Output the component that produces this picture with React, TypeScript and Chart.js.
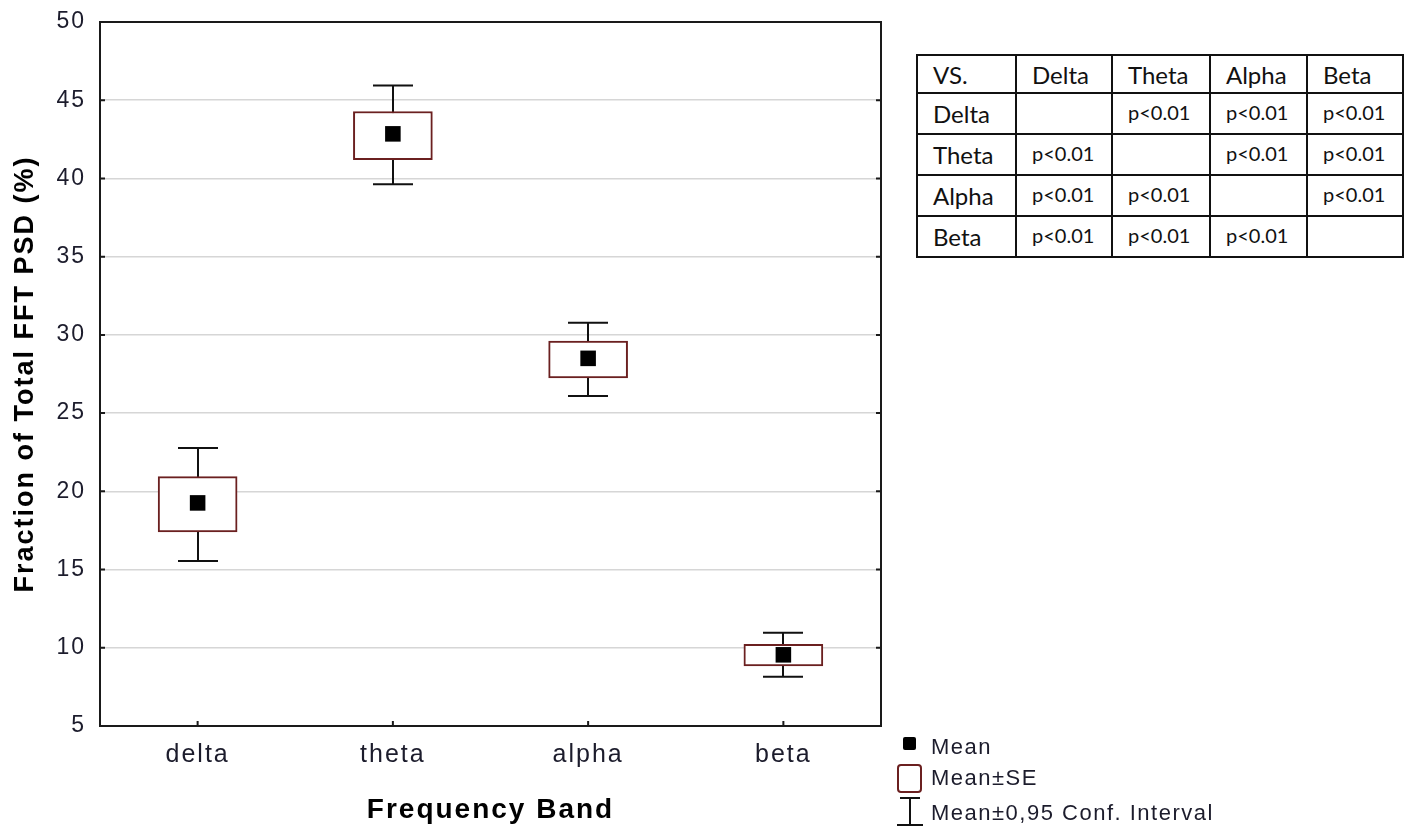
import React, { useEffect, useRef } from 'react';
import { Chart, registerables } from 'chart.js';

Chart.register(...registerables);

// ---------- data ----------
const categories = ['delta', 'theta', 'alpha', 'beta'];
const meanValues = [19.26, 42.85, 28.5, 9.55];
const seLower = [17.4, 41.2, 27.25, 8.84];
const seUpper = [20.94, 44.28, 29.6, 10.22];
const ciLower = [15.55, 39.63, 26.1, 8.15];
const ciUpper = [22.77, 45.94, 30.77, 10.96];
const yMin = 5;
const yMax = 50;
const yStep = 5;

const tableHeader = ['VS.', 'Delta', 'Theta', 'Alpha', 'Beta'];
const tableRowLabels = ['Delta', 'Theta', 'Alpha', 'Beta'];
const tableCells = [
  ['', 'p<0.01', 'p<0.01', 'p<0.01'],
  ['p<0.01', '', 'p<0.01', 'p<0.01'],
  ['p<0.01', 'p<0.01', '', 'p<0.01'],
  ['p<0.01', 'p<0.01', 'p<0.01', ''],
];
const legendLabels = ['Mean', 'Mean\u00b1SE', 'Mean\u00b10,95 Conf. Interval'];

const BOX_COLOR = '#6b2020';
const FONT = '"Liberation Sans", Arial, sans-serif';

const spacingPlugin = {
  id: 'spacing',
  beforeDraw(chart: any) {
    chart.ctx.letterSpacing = '2px';
  },
};

const whiskerPlugin = {
  id: 'whiskers',
  beforeDatasetsDraw(chart: any) {
    const { ctx } = chart;
    const xs = chart.scales.x;
    const ys = chart.scales.y;
    ctx.save();
    ctx.strokeStyle = '#111';
    ctx.lineWidth = 2;
    categories.forEach((_, i) => {
      const px = Math.round(xs.getPixelForValue(i));
      const top = ys.getPixelForValue(ciUpper[i]);
      const bot = ys.getPixelForValue(ciLower[i]);
      ctx.beginPath();
      ctx.moveTo(px, top);
      ctx.lineTo(px, bot);
      ctx.moveTo(px - 20, top);
      ctx.lineTo(px + 20, top);
      ctx.moveTo(px - 20, bot);
      ctx.lineTo(px + 20, bot);
      ctx.stroke();
    });
    ctx.restore();
  },
};

const framePlugin = {
  id: 'frame',
  afterDraw(chart: any) {
    const { ctx, chartArea } = chart;
    const { left, right, top, bottom } = chartArea;
    const xs = chart.scales.x;
    const ys = chart.scales.y;
    ctx.save();
    ctx.strokeStyle = '#1a1a1a';
    ctx.lineWidth = 2;
    ctx.strokeRect(left, top, right - left, bottom - top);
    ctx.beginPath();
    ys.ticks.forEach((t: any) => {
      const py = ys.getPixelForValue(t.value);
      ctx.moveTo(left, py);
      ctx.lineTo(left + 5, py);
      ctx.moveTo(right, py);
      ctx.lineTo(right - 5, py);
    });
    categories.forEach((_, i) => {
      const px = xs.getPixelForValue(i);
      ctx.moveTo(px, bottom);
      ctx.lineTo(px, bottom - 5);
    });
    ctx.stroke();
    ctx.restore();
  },
};

function ChartCanvas() {
  const ref = useRef<HTMLCanvasElement | null>(null);
  useEffect(() => {
    if (!ref.current) return;
    const chart = new Chart(ref.current, {
      type: 'bar',
      data: {
        labels: categories,
        datasets: [
          {
            type: 'line',
            label: legendLabels[0],
            data: meanValues,
            showLine: false,
            pointStyle: 'rect',
            pointRadius: 11,
            pointHoverRadius: 11,
            pointBackgroundColor: '#000',
            pointBorderWidth: 0,
            order: 1,
          } as any,
          {
            type: 'bar',
            label: legendLabels[1],
            data: seLower.map((l, i) => [l, seUpper[i]]),
            backgroundColor: '#ffffff',
            borderColor: BOX_COLOR,
            borderWidth: 2,
            borderSkipped: false,
            barThickness: 79,
            order: 2,
          } as any,
        ],
      },
      options: {
        animation: false,
        responsive: false,
        maintainAspectRatio: false,
        devicePixelRatio: 1,
        layout: { padding: { left: 0, right: 526, top: 22, bottom: 0 } },
        plugins: {
          legend: { display: false },
          title: { display: false },
          tooltip: { enabled: false },
        },
        scales: {
          x: {
            afterFit: (s: any) => {
              s.height = 103;
              s.paddingLeft = 0;
              s.paddingRight = 0;
            },
            grid: { display: false, drawTicks: false },
            border: { display: false },
            ticks: {
              font: { family: FONT, size: 25 },
              color: '#1c1c2c',
              padding: 14,
            },
            title: {
              display: true,
              text: 'Frequency Band',
              font: { family: FONT, size: 28, weight: 'bold' },
              color: '#000',
              padding: { top: 0, bottom: 2 },
            },
          },
          y: {
            min: yMin,
            max: yMax,
            afterFit: (s: any) => {
              s.width = 100;
              s.paddingTop = 0;
              s.paddingBottom = 0;
            },
            grid: {
              drawTicks: false,
              lineWidth: 1.5,
              color: (c: any) =>
                c.tick && (c.tick.value === yMin || c.tick.value === yMax)
                  ? 'rgba(0,0,0,0)'
                  : '#d6d6d6',
            },
            border: { display: false },
            ticks: {
              stepSize: yStep,
              font: { family: FONT, size: 23 },
              color: '#1c1c2c',
              padding: 14,
            },
            title: {
              display: true,
              text: 'Fraction of Total FFT PSD (%)',
              font: { family: FONT, size: 27, weight: 'bold' },
              color: '#000',
              padding: { top: 9, bottom: 0 },
            },
          },
        },
      } as any,
      plugins: [spacingPlugin, whiskerPlugin, framePlugin],
    });
    return () => chart.destroy();
  }, []);
  return <canvas ref={ref} width={1407} height={829} style={{ display: 'block' }} />;
}

const colWidths = [99, 96, 98, 97, 96];

function PTable() {
  const cellBase: React.CSSProperties = {
    border: '2px solid #111',
    padding: '0 0 0 15px',
    textAlign: 'left',
    verticalAlign: 'middle',
    height: 35,
    whiteSpace: 'nowrap',
    overflow: 'hidden',
  };
  const labelFont: React.CSSProperties = { fontFamily: 'Lato, "Open Sans", sans-serif', fontSize: 24, color: '#111' };
  const pFont: React.CSSProperties = { fontFamily: 'Lato, "Open Sans", sans-serif', fontSize: 20, color: '#111' };
  return (
    <table
      style={{
        position: 'absolute',
        left: 916,
        top: 54,
        borderCollapse: 'collapse',
        tableLayout: 'fixed',
        width: 488,
        background: '#fff',
      }}
    >
      <colgroup>
        {colWidths.map((w, i) => (
          <col key={i} style={{ width: w }} />
        ))}
      </colgroup>
      <tbody>
        <tr>
          {tableHeader.map((h, i) => (
            <td key={i} style={{ ...cellBase, ...labelFont, height: 36 }}>
              {h}
            </td>
          ))}
        </tr>
        {tableRowLabels.map((r, ri) => (
          <tr key={ri}>
            <td style={{ ...cellBase, ...labelFont }}>{r}</td>
            {tableCells[ri].map((c, ci) => (
              <td key={ci} style={{ ...cellBase, ...pFont, paddingBottom: 4 }}>
                {c}
              </td>
            ))}
          </tr>
        ))}
      </tbody>
    </table>
  );
}

function Legend() {
  const text: React.CSSProperties = {
    position: 'absolute',
    left: 931,
    fontFamily: FONT,
    fontSize: 22,
    letterSpacing: '1.5px',
    color: '#1c1c2c',
    lineHeight: '26px',
    whiteSpace: 'nowrap',
  };
  return (
    <div>
      <div style={{ position: 'absolute', left: 903, top: 737, width: 13, height: 13, background: '#000', borderRadius: 2 }} />
      <div style={{ ...text, top: 734 }}>{legendLabels[0]}</div>
      <div
        style={{
          position: 'absolute',
          left: 897,
          top: 764,
          width: 21,
          height: 25,
          border: `2px solid ${BOX_COLOR}`,
          borderRadius: 4,
        }}
      />
      <div style={{ ...text, top: 765 }}>{legendLabels[1]}</div>
      <svg style={{ position: 'absolute', left: 895, top: 795 }} width={30} height={34}>
        <line x1={5} y1={3} x2={25} y2={3} stroke="#111" strokeWidth={2} />
        <line x1={15} y1={3} x2={15} y2={30} stroke="#111" strokeWidth={2} />
        <line x1={2} y1={30} x2={28} y2={30} stroke="#111" strokeWidth={2} />
      </svg>
      <div style={{ ...text, top: 800 }}>{legendLabels[2]}</div>
    </div>
  );
}

export default function App() {
  return (
    <div style={{ position: 'absolute', left: 0, top: 0, width: 1407, height: 829, background: '#fff', overflow: 'hidden' }}>
      <ChartCanvas />
      <PTable />
      <Legend />
    </div>
  );
}
